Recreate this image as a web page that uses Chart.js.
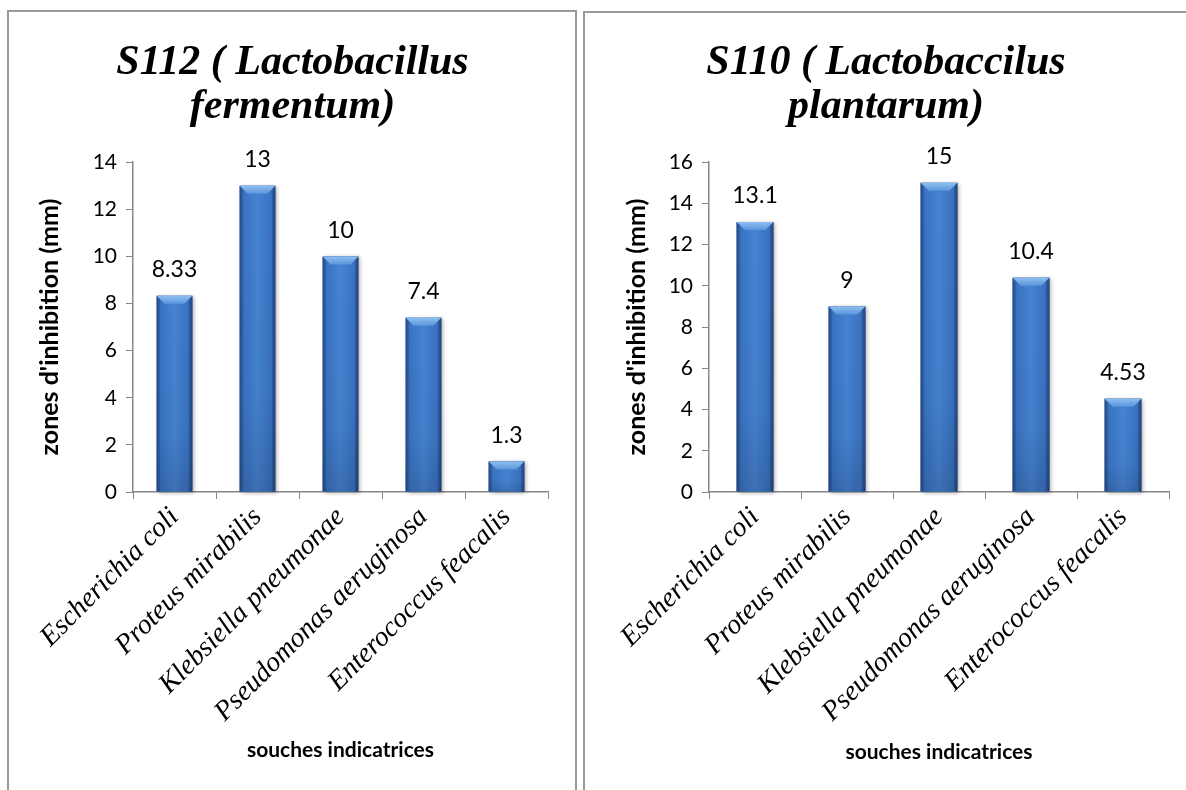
<!DOCTYPE html>
<html>
<head>
<meta charset="utf-8">
<title>Zones d'inhibition</title>
<script src="https://cdn.jsdelivr.net/npm/chart.js@4.4.1/dist/chart.umd.min.js"></script>
<style>
  html, body { margin: 0; padding: 0; background: #ffffff; overflow: hidden; }
  body { width: 1186px; height: 790px; position: relative; }
  .panel { position: absolute; border: 2px solid #9a9a9a; border-bottom: none; box-sizing: border-box; }
  #panelA { left: 7px; top: 10px; width: 570px; height: 800px; }
  #panelB { left: 583px; top: 11px; width: 620px; height: 800px; }
  canvas { position: absolute; }
  #chartA { left: 10px; top: 13px; }
  #chartB { left: 586px; top: 14px; }
</style>
</head>
<body>
<div class="panel" id="panelA"></div>
<div class="panel" id="panelB"></div>
<canvas id="chartA" width="565" height="777" style="width:565px;height:777px"></canvas>
<canvas id="chartB" width="600" height="776" style="width:600px;height:776px"></canvas>
<script>
// Indicator strains (x categories)
const categories = [
  'Escherichia coli',
  'Proteus mirabilis',
  'Klebsiella pneumonae',
  'Pseudomonas aeruginosa',
  'Enterococcus feacalis'
];

// Inhibition zone diameters (mm)
const s112Values = [8.33, 13, 10, 7.4, 1.3];
const s110Values = [13.1, 9, 15, 10.4, 4.53];

// Chart titles
const s112Title = ['S112 ( Lactobacillus', 'fermentum)'];
const s110Title = ['S110 ( Lactobaccilus', 'plantarum)'];

// Axis titles
const yAxisTitle = "zones d'inhibition (mm)";
const xAxisTitle = 'souches indicatrices';

// Value axis ranges
const s112Max = 14;
const s110Max = 16;
const yStep = 2;

const SANS = 'Lato';
const SERIF = '"Liberation Serif"';
const AXIS_GREY = '#868686';

// Bevelled, gradient-shaded bars drawn over the bar elements
const bevelBars = {
  id: 'bevelBars',
  afterDatasetsDraw(chart) {
    const ctx = chart.ctx;
    chart.getDatasetMeta(0).data.forEach(el => {
      const p = el.getProps(['x', 'y', 'base', 'width'], true);
      const l = p.x - p.width / 2, r = p.x + p.width / 2;
      const t = Math.min(p.y, p.base), b = Math.max(p.y, p.base);
      const w = r - l, h = b - t;
      const bv = Math.min(8, h / 2, w / 2);
      ctx.save();
      ctx.shadowColor = 'rgba(0,0,0,0.30)';
      ctx.shadowBlur = 4;
      ctx.shadowOffsetX = 2;
      ctx.shadowOffsetY = 1;
      const g = ctx.createLinearGradient(l, 0, r, 0);
      g.addColorStop(0, '#2a5493');
      g.addColorStop(0.12, '#3a73c2');
      g.addColorStop(0.5, '#4583d2');
      g.addColorStop(0.88, '#3a72c0');
      g.addColorStop(1, '#294f8a');
      ctx.fillStyle = g;
      ctx.fillRect(l, t, w, h);
      ctx.shadowColor = 'transparent';
      const gv = ctx.createLinearGradient(0, t, 0, b);
      gv.addColorStop(0, 'rgba(0,0,0,0)');
      gv.addColorStop(0.7, 'rgba(0,0,0,0.03)');
      gv.addColorStop(1, 'rgba(0,0,0,0.14)');
      ctx.fillStyle = gv;
      ctx.fillRect(l, t, w, h);
      const gt = ctx.createLinearGradient(0, t, 0, t + bv);
      gt.addColorStop(0, '#8fbff0');
      gt.addColorStop(1, '#5a95dc');
      ctx.fillStyle = gt;
      ctx.beginPath();
      ctx.moveTo(l, t);
      ctx.lineTo(r, t);
      ctx.lineTo(r - bv, t + bv);
      ctx.lineTo(l + bv, t + bv);
      ctx.closePath();
      ctx.fill();
      ctx.fillStyle = 'rgba(20,45,90,0.25)';
      ctx.beginPath();
      ctx.moveTo(r, t);
      ctx.lineTo(r, b);
      ctx.lineTo(r - 3, b);
      ctx.lineTo(r - 3, t + 3);
      ctx.closePath();
      ctx.fill();
      ctx.fillStyle = 'rgba(20,45,90,0.18)';
      ctx.beginPath();
      ctx.moveTo(l, t);
      ctx.lineTo(l + 3, t + 3);
      ctx.lineTo(l + 3, b);
      ctx.lineTo(l, b);
      ctx.closePath();
      ctx.fill();
      ctx.restore();
    });
  }
};

// Value labels above each bar
const valueLabels = {
  id: 'valueLabels',
  afterDatasetsDraw(chart) {
    const ctx = chart.ctx;
    const ds = chart.data.datasets[0];
    ctx.save();
    ctx.font = '23px ' + SANS;
    ctx.fillStyle = '#000000';
    ctx.textAlign = 'center';
    ctx.textBaseline = 'middle';
    chart.getDatasetMeta(0).data.forEach((el, i) => {
      ctx.fillText(String(ds.data[i]), el.x, el.y - 26);
    });
    ctx.restore();
  }
};

function buildChart(canvasId, titleLines, values, yMax, geo) {
  return new Chart(document.getElementById(canvasId), {
    type: 'bar',
    data: {
      labels: categories,
      datasets: [{
        data: values,
        backgroundColor: '#3a72bf',
        borderWidth: 0,
        categoryPercentage: 1,
        barPercentage: geo.barPct
      }]
    },
    options: {
      responsive: false,
      animation: false,
      events: [],
      layout: { padding: 0 },
      plugins: {
        legend: { display: false },
        tooltip: { enabled: false },
        title: {
          display: true,
          text: titleLines,
          color: '#000000',
          font: { family: SERIF, size: 42, style: 'italic', weight: 'bold', lineHeight: 1.05 },
          padding: { top: geo.titleTop, bottom: geo.titleBottom }
        }
      },
      scales: {
        x: {
          offset: true,
          grid: {
            display: true,
            offset: true,
            drawOnChartArea: false,
            drawTicks: true,
            tickLength: 7,
            color: AXIS_GREY,
            lineWidth: 1
          },
          border: { display: true, color: AXIS_GREY, width: 1.5 },
          ticks: {
            maxRotation: 45,
            minRotation: 45,
            autoSkip: false,
            padding: 2,
            color: '#000000',
            font: { family: SERIF, size: 28, style: 'italic' }
          },
          title: {
            display: true,
            text: xAxisTitle,
            color: '#000000',
            font: { family: SANS, size: 21, weight: 'bold' },
            padding: { top: 0, bottom: geo.xTitleBottom }
          },
          afterFit: s => { s.height = geo.xHeight; }
        },
        y: {
          min: 0,
          max: yMax,
          grid: {
            display: true,
            drawOnChartArea: false,
            drawTicks: true,
            tickLength: 7,
            color: AXIS_GREY,
            lineWidth: 1
          },
          border: { display: true, color: AXIS_GREY, width: 1.5 },
          ticks: {
            stepSize: yStep,
            padding: 9,
            color: '#000000',
            font: { family: SANS, size: 21 }
          },
          title: {
            display: true,
            text: yAxisTitle,
            color: '#000000',
            font: { family: SANS, size: 25, weight: 'bold' },
            padding: { top: geo.yTitleTop, bottom: 0 }
          },
          afterFit: s => { s.width = geo.yWidth; }
        },
        spacer: {
          type: 'linear',
          position: 'right',
          display: true,
          grid: { display: false },
          border: { display: false },
          ticks: { display: false },
          afterFit: s => { s.width = geo.rightGap; }
        }
      }
    },
    plugins: [bevelBars, valueLabels]
  });
}

buildChart('chartA', s112Title, s112Values, s112Max, {
  barPct: 0.43, titleTop: 28, titleBottom: 33, xHeight: 298, xTitleBottom: 27,
  yWidth: 123, yTitleTop: 25, rightGap: 27
});
buildChart('chartB', s110Title, s110Values, s110Max, {
  barPct: 0.40, titleTop: 27, titleBottom: 33, xHeight: 298, xTitleBottom: 25,
  yWidth: 123, yTitleTop: 36, rightGap: 17
});
</script>
</body>
</html>
